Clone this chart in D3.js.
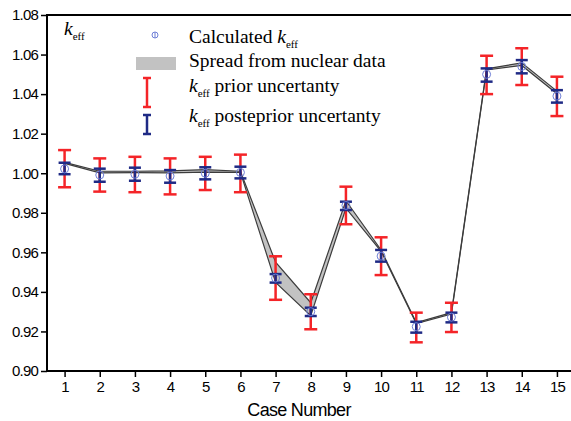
<!DOCTYPE html>
<html>
<head>
<meta charset="utf-8">
<script src="https://cdn.jsdelivr.net/npm/d3@7"></script>
<style>
    body { margin: 0; background: #fff; }
    .tick text { font-family: "Liberation Sans", Arial, sans-serif; }
</style>
</head>
<body>
<script>
// case numbers on x axis
var cases = [1, 2, 3, 4, 5, 6, 7, 8, 9, 10, 11, 12, 13, 14, 15];
// calculated keff (open circles)
var calcK = [1.0022, 0.9991, 0.9995, 0.9986, 1.0000, 1.0004, 0.9470, 0.9300, 0.9837, 0.9581, 0.9224, 0.9272, 1.0500, 1.0540, 1.0390];
// spread from nuclear data (upper / lower edge of grey band)
var spreadHi = [1.0055, 1.0010, 1.0010, 1.0012, 1.0018, 1.0010, 0.9550, 0.9345, 0.9861, 0.9612, 0.9245, 0.9295, 1.0528, 1.0558, 1.0415];
var spreadLo = [1.0050, 1.0002, 1.0003, 1.0002, 1.0006, 1.0004, 0.9448, 0.9280, 0.9823, 0.9605, 0.9240, 0.9288, 1.0522, 1.0545, 1.0402];
// prior uncertainty (red bars)
var priorHi = [1.0117, 1.0075, 1.0083, 1.0075, 1.0083, 1.0094, 0.9580, 0.9388, 0.9932, 0.9676, 0.9295, 0.9345, 1.0594, 1.0632, 1.0488];
var priorLo = [0.9929, 0.9907, 0.9904, 0.9893, 0.9915, 0.9904, 0.9360, 0.9211, 0.9742, 0.9485, 0.9145, 0.9197, 1.0400, 1.0446, 1.0289];
// posterior uncertainty (blue bars)
var postHi = [1.0053, 1.0023, 1.0028, 1.0016, 1.0030, 1.0033, 0.9490, 0.9320, 0.9856, 0.9612, 0.9249, 0.9295, 1.0530, 1.0572, 1.0420];
var postLo = [0.9995, 0.9957, 0.9962, 0.9952, 0.9969, 0.9974, 0.9447, 0.9278, 0.9814, 0.9553, 0.9194, 0.9246, 1.0463, 1.0505, 1.0357];
// y tick labels
var yTicks = [0.90, 0.92, 0.94, 0.96, 0.98, 1.00, 1.02, 1.04, 1.06, 1.08];

window.onload = function() {
    var w = 571, h = 421;
    var left = 47, right = 571, top = 15, bottom = 371;

    var svg = d3.select("body")
        .append("svg")
        .attr("width", w)
        .attr("height", h);

    var x = d3.scaleLinear().domain([0.5, 15.4]).range([left, right]);
    var y = d3.scaleLinear().domain([0.90, 1.08]).range([bottom, top]);

    // rows built from the arrays above
    var rows = cases.map(function(c, i) {
        return { c: c, k: calcK[i], sh: spreadHi[i], sl: spreadLo[i],
                 ph: priorHi[i], pl: priorLo[i], qh: postHi[i], ql: postLo[i] };
    });

    // grey spread band
    var band = d3.area()
        .x(function(d) { return x(d.c); })
        .y0(function(d) { return y(d.sl); })
        .y1(function(d) { return y(d.sh); });
    svg.append("path")
        .datum(rows)
        .attr("d", band)
        .attr("fill", "#c2c2c2")
        .attr("stroke", "none");
    // band edges
    ["sh", "sl"].forEach(function(k) {
        svg.append("path")
            .datum(rows)
            .attr("d", d3.line()
                .x(function(d) { return x(d.c); })
                .y(function(d) { return y(d[k]); }))
            .attr("fill", "none")
            .attr("stroke", "#3c3c3c")
            .attr("stroke-width", 1.2);
    });

    // error bar helper
    function bars(cls, hi, lo, color, cap, sw) {
        var g = svg.append("g").attr("class", cls);
        var b = g.selectAll("g").data(rows).enter().append("g");
        b.append("line")
            .attr("x1", function(d) { return x(d.c); })
            .attr("x2", function(d) { return x(d.c); })
            .attr("y1", function(d) { return y(d[hi]); })
            .attr("y2", function(d) { return y(d[lo]); })
            .attr("stroke", color).attr("stroke-width", sw);
        [hi, lo].forEach(function(k) {
            b.append("line")
                .attr("x1", function(d) { return x(d.c) - cap; })
                .attr("x2", function(d) { return x(d.c) + cap; })
                .attr("y1", function(d) { return y(d[k]); })
                .attr("y2", function(d) { return y(d[k]); })
                .attr("stroke", color).attr("stroke-width", 2.5);
        });
    }
    bars("prior", "ph", "pl", "#f42428", 6.5, 2.5);
    bars("post", "qh", "ql", "#1f2a85", 6, 2.5);

    // calculated keff circles
    svg.selectAll(".calc")
        .data(rows)
        .enter()
        .append("circle")
        .attr("class", "calc")
        .attr("cx", function(d) { return x(d.c); })
        .attr("cy", function(d) { return y(d.k); })
        .attr("r", 4)
        .attr("fill", "none")
        .attr("stroke", "#6f7fd6")
        .attr("stroke-width", 1);

    // axes
    var yAxis = svg.append("g")
        .attr("transform", "translate(" + left + ",0)")
        .call(d3.axisLeft(y).tickValues(yTicks).tickFormat(d3.format(".2f")).tickSize(6).tickPadding(3));
    var xAxis = svg.append("g")
        .attr("transform", "translate(0," + bottom + ")")
        .call(d3.axisBottom(x).tickValues(cases).tickFormat(d3.format("d")).tickSize(6).tickPadding(4));
    [yAxis, xAxis].forEach(function(a) {
        a.select(".domain").remove();
        a.selectAll(".tick line").attr("stroke", "#000").attr("stroke-width", 1.5);
        a.selectAll(".tick text").attr("font-size", 15).attr("fill", "#000").style("letter-spacing", "-0.8px");
    });

    // frame lines (left, top, bottom)
    svg.append("path")
        .attr("d", "M" + right + "," + top + "H" + left + "V" + bottom + "H" + right)
        .attr("fill", "none")
        .attr("stroke", "#000")
        .attr("stroke-width", 2);

    // x axis title
    svg.append("text")
        .attr("x", 299)
        .attr("y", 416)
        .attr("text-anchor", "middle")
        .attr("font-family", "Liberation Sans, Arial, sans-serif")
        .attr("font-size", 18)
        .style("letter-spacing", "-0.7px")
        .text("Case Number");

    // keff label inside plot
    var serif = "Liberation Serif, Times New Roman, serif";
    function keff(t, xx, yy) {
        t.append("tspan").attr("x", xx).attr("y", yy).attr("font-style", "italic").text("k");
        t.append("tspan").attr("font-size", 11).attr("dy", 5).text("eff");
    }
    var lab = svg.append("text").attr("font-family", serif).attr("font-size", 19.5);
    keff(lab, 64, 35);

    // legend
    var lg = svg.append("g").attr("font-family", serif).attr("font-size", 19.5).attr("fill", "#000");
    lg.append("circle").attr("cx", 155).attr("cy", 35).attr("r", 3)
        .attr("fill", "none").attr("stroke", "#6f7fd6").attr("stroke-width", 1);
    lg.append("line").attr("x1", 155).attr("x2", 155).attr("y1", 32).attr("y2", 38)
        .attr("stroke", "#6f7fd6").attr("stroke-width", 1);
    var t1 = lg.append("text");
    t1.append("tspan").attr("x", 189).attr("y", 43).text("Calculated ");
    t1.append("tspan").attr("font-style", "italic").text("k");
    t1.append("tspan").attr("font-size", 11).attr("dy", 5).text("eff");

    lg.append("rect").attr("x", 136).attr("y", 57).attr("width", 40).attr("height", 13).attr("fill", "#c2c2c2");
    lg.append("text").attr("x", 189).attr("y", 67).text("Spread from nuclear data");

    function legBar(yy1, yy2, color) {
        lg.append("line").attr("x1", 147).attr("x2", 147).attr("y1", yy1).attr("y2", yy2)
            .attr("stroke", color).attr("stroke-width", 2.5);
        [yy1, yy2].forEach(function(v) {
            lg.append("line").attr("x1", 143).attr("x2", 151).attr("y1", v).attr("y2", v)
                .attr("stroke", color).attr("stroke-width", 2.5);
        });
    }
    legBar(78, 107, "#f42428");
    legBar(115, 134, "#1f2a85");

    var t3 = lg.append("text");
    keff(t3, 189, 92);
    t3.append("tspan").attr("dy", -5).text(" prior uncertanty");
    var t4 = lg.append("text");
    keff(t4, 189, 122);
    t4.append("tspan").attr("dy", -5).text(" posteprior uncertanty");
};
</script>
</body>
</html>
